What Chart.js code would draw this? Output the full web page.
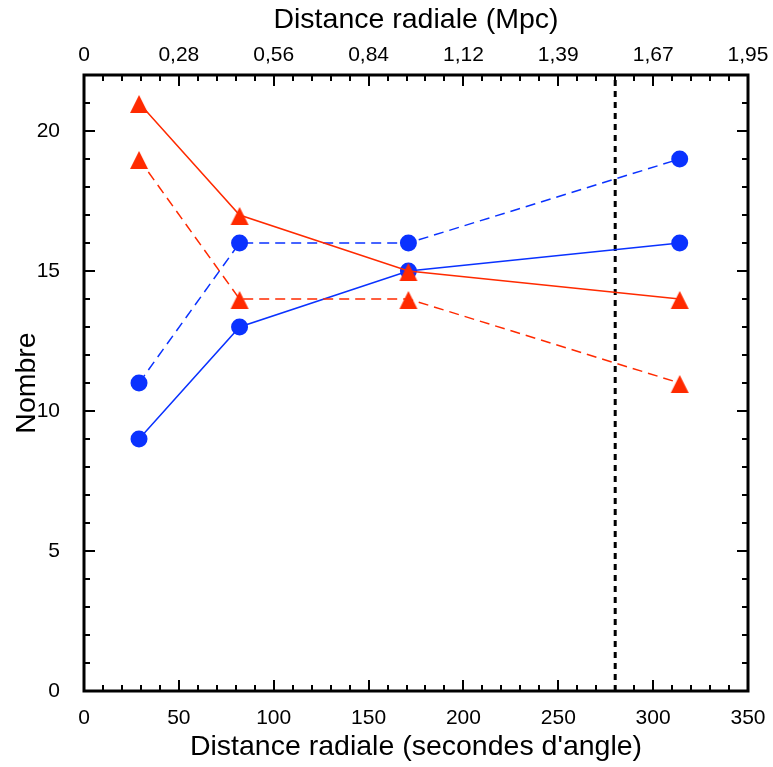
<!DOCTYPE html>
<html>
<head>
<meta charset="utf-8">
<script src="https://cdn.jsdelivr.net/npm/chart.js@4/dist/chart.umd.min.js"></script>
<style>
  html, body { margin: 0; padding: 0; background: #fff; }
</style>
</head>
<body>
<canvas id="chart" width="773" height="767"></canvas>
<script>
// values
const radiusArcsec = [29, 82, 171, 314];
const redSolid = [21, 17, 15, 14];
const redDashed = [19, 14, 14, 11];
const blueSolid = [9, 13, 15, 16];
const blueDashed = [11, 16, 16, 19];
const arcsecTicks = [0, 50, 100, 150, 200, 250, 300, 350];
const mpcLabels = ['0', '0,28', '0,56', '0,84', '1,12', '1,39', '1,67', '1,95'];
const cutoffArcsec = 280;

const RED = '#ff2a00';
const BLUE = '#0a32ff';
const FONT = '"Liberation Sans", Arial, Helvetica, sans-serif';

function pts(ys) {
    return radiusArcsec.map((x, i) => ({ x: x, y: ys[i] }));
}

// triangle marker sitting a bit low like the original symbol
function triangleMarker(color) {
    const c = document.createElement('canvas');
    c.width = 20; c.height = 22;
    const g = c.getContext('2d');
    g.fillStyle = color;
    g.beginPath();
    g.moveTo(10, 3);
    g.lineTo(19, 21);
    g.lineTo(1, 21);
    g.closePath();
    g.fill();
    return c;
}
const redTri = triangleMarker(RED);

// frame + inward ticks (major and minor) on all four sides
const frameTicks = {
    id: 'frameTicks',
    afterDraw(chart) {
        const { ctx, chartArea: a, scales } = chart;
        ctx.save();
        ctx.strokeStyle = '#000';
        ctx.lineWidth = 2;
        ctx.beginPath();
        for (let v = 0; v <= 350; v += 10) {
            const px = Math.round(scales.x.getPixelForValue(v));
            const len = v % 50 === 0 ? 11 : 6;
            ctx.moveTo(px, a.bottom); ctx.lineTo(px, a.bottom - len);
            ctx.moveTo(px, a.top); ctx.lineTo(px, a.top + len);
        }
        for (let v = 0; v <= 22; v += 1) {
            const py = Math.round(scales.y.getPixelForValue(v));
            const len = v % 5 === 0 ? 11 : 6;
            ctx.moveTo(a.left, py); ctx.lineTo(a.left + len, py);
            ctx.moveTo(a.right, py); ctx.lineTo(a.right - len, py);
        }
        ctx.stroke();
        ctx.lineWidth = 3;
        ctx.strokeRect(a.left, a.top, a.right - a.left, a.bottom - a.top);
        ctx.restore();
    }
};

// keep the plot box where the original has it
function fixX(h) {
    return s => { s.height = h; s.paddingLeft = 0; s.paddingRight = 25; };
}

const ctx = document.getElementById('chart').getContext('2d');
new Chart(ctx, {
    type: 'line',
    data: {
        datasets: [
            {
                data: pts(redSolid), borderColor: RED, backgroundColor: RED,
                borderWidth: 1.5, pointStyle: redTri, pointRadius: 10
            },
            {
                data: pts(redDashed), borderColor: RED, backgroundColor: RED,
                borderWidth: 1.5, borderDash: [10, 6], pointStyle: redTri, pointRadius: 10
            },
            {
                data: pts(blueSolid), borderColor: BLUE, backgroundColor: BLUE,
                borderWidth: 1.5, pointStyle: 'circle', pointRadius: 8.5, pointBorderWidth: 0
            },
            {
                data: pts(blueDashed), borderColor: BLUE, backgroundColor: BLUE,
                borderWidth: 1.5, borderDash: [10, 6], pointStyle: 'circle', pointRadius: 8.5, pointBorderWidth: 0
            },
            {
                data: [{ x: cutoffArcsec, y: 0 }, { x: cutoffArcsec, y: 22 }],
                borderColor: '#000', borderWidth: 3, borderDash: [6, 5], pointRadius: 0
            }
        ]
    },
    options: {
        responsive: false,
        animation: false,
        layout: { padding: { left: 0, right: 25, top: 0, bottom: 0 } },
        plugins: { legend: { display: false }, tooltip: { enabled: false } },
        scales: {
            x: {
                type: 'linear', position: 'bottom', min: 0, max: 350,
                afterBuildTicks: s => { s.ticks = arcsecTicks.map(v => ({ value: v })); },
                afterFit: fixX(76),
                ticks: { color: '#000', font: { family: FONT, size: 21 }, padding: 7, maxRotation: 0 },
                grid: { display: false }, border: { display: false },
                title: { display: true, text: "Distance radiale (secondes d'angle)", color: '#000',
                         font: { family: FONT, size: 28.5 }, padding: { top: 0, bottom: 3 } }
            },
            x2: {
                type: 'linear', position: 'top', min: 0, max: 350,
                afterBuildTicks: s => { s.ticks = arcsecTicks.map(v => ({ value: v })); },
                afterFit: fixX(75),
                ticks: { color: '#000', font: { family: FONT, size: 21 }, padding: -1, maxRotation: 0,
                         callback: (v) => mpcLabels[arcsecTicks.indexOf(v)] },
                grid: { display: false }, border: { display: false },
                title: { display: true, text: 'Distance radiale (Mpc)', color: '#000',
                         font: { family: FONT, size: 28.5 }, padding: { top: 3, bottom: 0 } }
            },
            y: {
                type: 'linear', position: 'left', min: 0, max: 22,
                afterFit: s => { s.width = 84; },
                ticks: { stepSize: 5, includeBounds: false, color: '#000',
                         font: { family: FONT, size: 21 }, padding: 16 },
                grid: { display: false }, border: { display: false },
                title: { display: true, text: 'Nombre', color: '#000',
                         font: { family: FONT, size: 28.5 }, padding: { top: 10, bottom: 0 } }
            }
        }
    },
    plugins: [frameTicks]
});
</script>
</body>
</html>
